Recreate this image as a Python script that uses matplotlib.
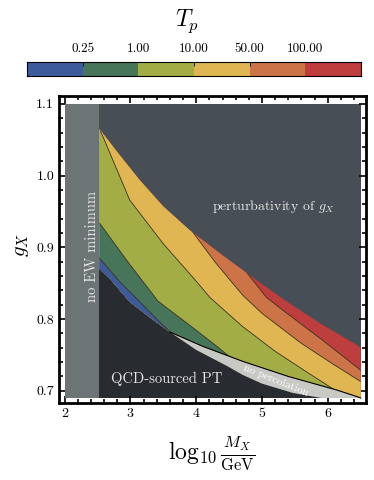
import matplotlib
matplotlib.use("Agg")
import matplotlib.pyplot as plt
from matplotlib.patches import Polygon, Rectangle
from matplotlib.ticker import MultipleLocator

plt.rcParams['font.family'] = 'serif'
plt.rcParams['font.serif'] = ['cmr10']
plt.rcParams['mathtext.fontset'] = 'cm'
plt.rcParams['axes.formatter.use_mathtext'] = True

# colour bar
tp_labels = ['0.25', '1.00', '10.00', '50.00', '100.00']
tp_colors = ['#3d5a9b', '#46755a', '#a2ad46', '#e0b653', '#cc7447', '#be3d3d']

# boundaries of the region with a first-order PT (log10 M_X, g_X)
upper_x = [2.53, 2.80, 3.14, 3.50, 3.90, 4.40, 4.80, 5.35, 5.90, 6.44, 6.50]
upper_y = [1.065, 1.033, 0.994, 0.957, 0.924, 0.889, 0.862, 0.826, 0.793, 0.764, 0.760]
lower_x = [2.53, 2.70, 2.84, 2.99, 3.30, 3.60, 4.10, 4.71, 5.40, 6.14, 6.44, 6.50]
lower_y = [0.870, 0.855, 0.840, 0.824, 0.802, 0.782, 0.762, 0.741, 0.720, 0.701, 0.692, 0.690]
perc_x = [3.60, 4.00, 4.46, 4.71, 5.00, 5.47, 5.90]
perc_y = [0.782, 0.757, 0.735, 0.722, 0.710, 0.697, 0.690]

# contours of T_p
c025_x = [2.53, 2.84, 3.11, 3.40, 3.64]
c025_y = [0.885, 0.852, 0.827, 0.800, 0.779]
c1_x = [2.53, 2.96, 3.42, 3.95, 4.30, 4.65]
c1_y = [0.934, 0.880, 0.825, 0.788, 0.763, 0.737]
c10_x = [2.53, 2.99, 3.50, 3.98, 4.21, 4.70, 5.20, 5.75, 6.33]
c10_y = [1.066, 0.966, 0.905, 0.855, 0.830, 0.790, 0.755, 0.722, 0.688]
c50_x = [3.86, 4.30, 4.71, 5.00, 5.60, 6.10, 6.55]
c50_y = [0.932, 0.878, 0.833, 0.808, 0.766, 0.736, 0.710]
c100_x = [4.74, 5.07, 5.35, 5.90, 6.55]
c100_y = [0.868, 0.830, 0.810, 0.772, 0.725]

fig = plt.figure(figsize=(3.74, 4.8), dpi=100)
ax = fig.add_axes([59 / 374, 77 / 480, 307 / 374, 307 / 480])

ax.add_patch(Rectangle((2.0, 0.69), 4.5, 0.41, fc='#484e55', ec='none', zorder=0))
qcd = [(2.5, 0.69), (2.5, lower_y[0])] + list(zip(lower_x, lower_y)) + [(6.5, 0.69)]
ax.add_patch(Polygon(qcd, fc='#282b2f', ec='none', zorder=1))
ax.add_patch(Rectangle((2.0, 0.69), 0.52, 0.41, fc='#6c7475', ec='none', zorder=5))

region = list(zip(upper_x, upper_y)) + list(zip(lower_x, lower_y))[::-1]
clip = Polygon(region, fc=tp_colors[5], ec='none', zorder=2)
ax.add_patch(clip)

bands = [
    ([(4.74, 1.2)], c100_x, c100_y, [(7, 0.725), (7, 0.5), (1.5, 0.5), (1.5, 1.2)], tp_colors[4]),
    ([(3.86, 1.2)], c50_x, c50_y, [(7, 0.710), (7, 0.5), (1.5, 0.5), (1.5, 1.2)], tp_colors[3]),
    ([(2.53, 1.2)], c10_x, c10_y, [(6.33, 0.5), (1.5, 0.5), (1.5, 1.2)], tp_colors[2]),
    ([(1.5, 0.934)], c1_x, c1_y, [(4.65, 0.5), (1.5, 0.5)], tp_colors[1]),
    ([(1.5, 0.885)], c025_x, c025_y, [(3.64, 0.5), (1.5, 0.5)], tp_colors[0]),
]
for head, cx, cy, tail, col in bands:
    p = Polygon(head + list(zip(cx, cy)) + tail, fc=col, ec='none', zorder=3)
    ax.add_patch(p)
    p.set_clip_path(clip)
    ln, = ax.plot(cx, cy, color='#3b3122', lw=0.6, zorder=4)
    ln.set_clip_path(clip)

# no percolation band
edge = [(x, y) for x, y in zip(lower_x, lower_y) if x >= 3.6]
band = edge + [(6.5, 0.69)] + list(zip(perc_x, perc_y))[::-1]
ax.add_patch(Polygon(band, fc='#c8c8c4', ec='none', zorder=2))
ax.plot([p[0] for p in edge], [p[1] for p in edge], color='black', lw=0.8, zorder=4)

ax.text(2.42, 0.901, 'no EW minimum', rotation=90, color='#e6e6e6', fontsize=10.5,
        ha='center', va='center', zorder=6)
ax.text(5.17, 0.957, r'perturbativity of $g_X$', color='#e6e6e6', fontsize=10,
        ha='center', va='center', zorder=6)
ax.text(3.55, 0.717, 'QCD-sourced PT', color='#e6e6e6', fontsize=10.5,
        ha='center', va='center', zorder=6)
ax.text(5.21, 0.715, 'no percolation', color='white', fontsize=8, rotation=-22,
        ha='center', va='center', zorder=6)

ax.set_xlim(1.916, 6.58)
ax.set_ylim(0.683, 1.111)
ax.xaxis.set_major_locator(MultipleLocator(1))
ax.xaxis.set_minor_locator(MultipleLocator(0.2))
ax.yaxis.set_major_locator(MultipleLocator(0.1))
ax.yaxis.set_minor_locator(MultipleLocator(0.02))
ax.xaxis.set_major_formatter(plt.FuncFormatter(lambda v, p: f'{v:.0f}'))
ax.yaxis.set_major_formatter(plt.FuncFormatter(lambda v, p: f'{v:.1f}'))
ax.tick_params(which='both', direction='in', top=True, right=True, width=1.2, labelsize=10)
ax.tick_params(which='major', length=5)
ax.tick_params(which='minor', length=3)
for s in ax.spines.values():
    s.set_linewidth(2)

fig.text(0.567, 1 - 453 / 480, r'$\log_{10}\frac{M_X}{\mathrm{GeV}}$', fontsize=17,
         ha='center', va='center')
fig.text(22 / 374, 1 - 245 / 480, r'$g_X$', fontsize=15, rotation=90, ha='center', va='center')

# colour bar
cax = fig.add_axes([27.3 / 374, 1 - 75.7 / 480, 333.4 / 374, 13.4 / 480])
cax.bar(range(6), [1] * 6, width=1, align='edge', color=tp_colors)
cax.set_xlim(0, 6)
cax.set_ylim(0, 1)
cax.set_yticks([])
cax.set_xticks([1, 2, 3, 4, 5], tp_labels)
cax.xaxis.tick_top()
cax.tick_params(axis='x', direction='in', length=3, width=0.6, labelsize=9.5, pad=5)
for i in [1, 4]:
    cax.xaxis.get_major_ticks()[i].tick2line.set_visible(False)
for s in cax.spines.values():
    s.set_linewidth(0.8)
fig.text(187 / 374, 1 - 21.7 / 480, r'$T_p$', fontsize=17, ha='center', va='center')

fig.savefig('out.png', dpi=100)
